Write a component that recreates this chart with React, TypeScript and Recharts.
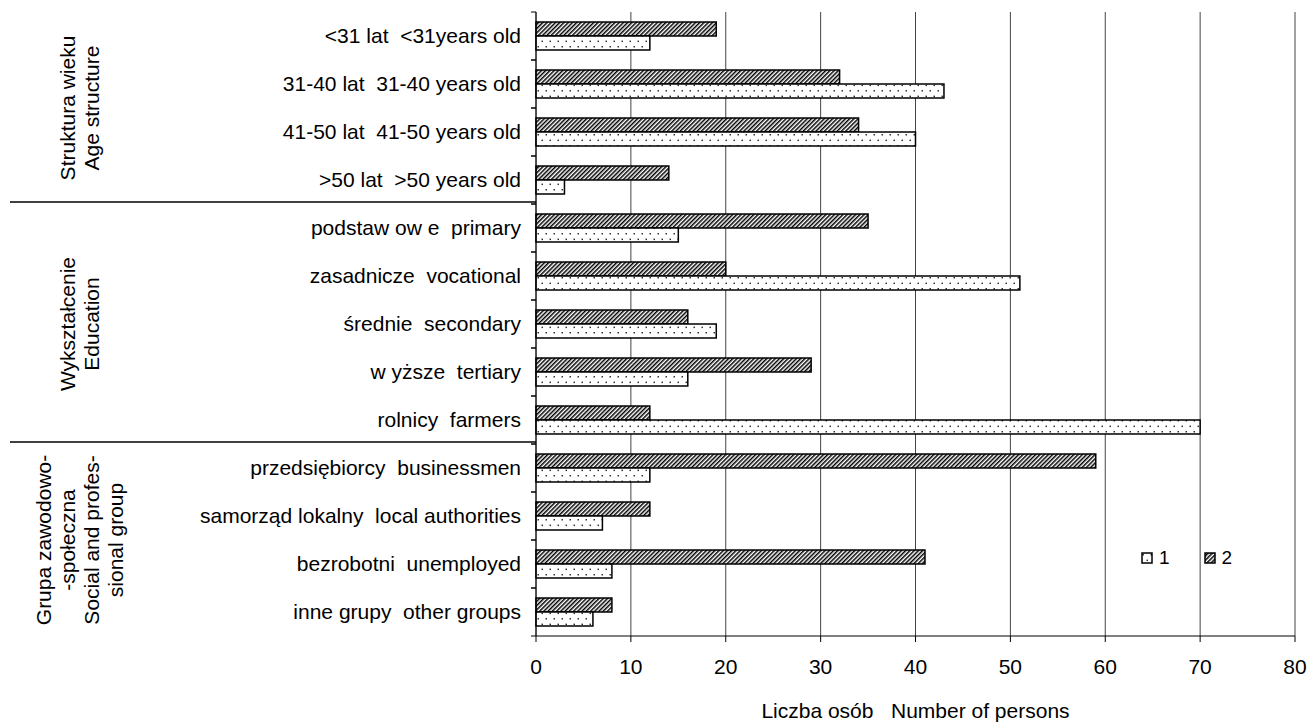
import React from "react";
import { BarChart, Bar, XAxis, YAxis, CartesianGrid, Legend } from "recharts";

const categories = [
  "<31 lat  <31years old",
  "31-40 lat  31-40 years old",
  "41-50 lat  41-50 years old",
  ">50 lat  >50 years old",
  "podstaw ow e  primary",
  "zasadnicze  vocational",
  "średnie  secondary",
  "w yższe  tertiary",
  "rolnicy  farmers",
  "przedsiębiorcy  businessmen",
  "samorząd lokalny  local authorities",
  "bezrobotni  unemployed",
  "inne grupy  other groups",
];
const series1 = [12, 43, 40, 3, 15, 51, 19, 16, 70, 12, 7, 8, 6];
const series2 = [19, 32, 34, 14, 35, 20, 16, 29, 12, 59, 12, 41, 8];
const xTicks = [0, 10, 20, 30, 40, 50, 60, 70, 80];
const groups = [
  { lines: ["Struktura wieku", "Age structure"], start: 0, count: 4 },
  { lines: ["Wykształcenie", "Education"], start: 4, count: 5 },
  { lines: ["Grupa zawodowo-", "-społeczna", "Social and profes-", "sional group"], start: 9, count: 4 },
];
const xLabel = "Liczba osób   Number of persons";

const data = categories.map((name, i) => ({ name, s1: series1[i], s2: series2[i] }));

const W = 1313;
const H = 725;
const M = { top: 12, right: 18, bottom: 0, left: 0 };
const Y_W = 536;
const X_H = 89;
const BAND = (H - M.top - M.bottom - X_H) / categories.length;
const FONT = "'Liberation Sans', Arial, sans-serif";
const FS = 21;

function CategoryTick(props: any) {
  const { y, payload, index } = props;
  const half = BAND / 2;
  const group = groups.find((g) => g.start === index);
  const gy = y - half + (group ? group.count * BAND : 0) / 2;
  return (
    <g>
      <line x1={Y_W - 5} x2={Y_W} y1={y - half} y2={y - half} stroke="#000" />
      <line x1={Y_W - 5} x2={Y_W} y1={y + half} y2={y + half} stroke="#000" />
      <text
        x={521}
        y={y}
        dy={7}
        textAnchor="end"
        fontSize={FS}
        fontFamily={FONT}
        fill="#000"
        style={{ whiteSpace: "pre" }}
      >
        {payload.value}
      </text>
      {group && group.start > 0 && (
        <line x1={10} x2={Y_W} y1={y - half - 2} y2={y - half - 2} stroke="#000" strokeWidth={1.5} />
      )}
      {group && (
        <text
          transform={`rotate(-90, 80, ${gy})`}
          x={80}
          y={gy}
          textAnchor="middle"
          fontSize={FS}
          fontFamily={FONT}
          fill="#000"
        >
          {group.lines.map((l, i) => (
            <tspan key={i} x={80} dy={i === 0 ? 7 - ((group.lines.length - 1) / 2) * 24 : 24}>
              {l}
            </tspan>
          ))}
        </text>
      )}
    </g>
  );
}

function AxisTitle(props: any) {
  const vb = props.viewBox || {};
  return (
    <text
      x={vb.x + vb.width / 2}
      y={H - 7}
      textAnchor="middle"
      fontSize={FS}
      fontFamily={FONT}
      fill="#000"
      style={{ whiteSpace: "pre" }}
    >
      {xLabel}
    </text>
  );
}

function renderLegend() {
  const items = [
    { label: "1", fill: "url(#dots)" },
    { label: "2", fill: "url(#hatch)" },
  ];
  return (
    <div style={{ display: "flex", alignItems: "center", fontFamily: FONT, fontSize: 19 }}>
      {items.map((it) => (
        <div key={it.label} style={{ display: "flex", alignItems: "center", marginRight: 34 }}>
          <svg width={12} height={12}>
            <rect x={1} y={1} width={10} height={10} fill={it.fill} stroke="#000" strokeWidth={1.5} />
          </svg>
          <span style={{ marginLeft: 6 }}>{it.label}</span>
        </div>
      ))}
    </div>
  );
}

export default function App() {
  return (
    <div style={{ position: "absolute", left: 0, top: 0, background: "#fff" }}>
      <BarChart
        width={W}
        height={H}
        data={data}
        layout="vertical"
        margin={M}
        barSize={14}
        barGap={0}
      >
        <defs>
          <pattern id="hatch" width="3" height="3" patternUnits="userSpaceOnUse" patternTransform="rotate(45)">
            <rect width="3" height="3" fill="#fff" />
            <line x1="0" y1="0" x2="0" y2="3" stroke="#000" strokeWidth="3" />
          </pattern>
          <pattern id="dots" width="8" height="11" patternUnits="userSpaceOnUse">
            <rect width="8" height="11" fill="#fff" />
            <rect x="1.5" y="2" width="1.5" height="1.5" fill="#333" />
            <rect x="5.5" y="7.6" width="1.5" height="1.5" fill="#333" />
          </pattern>
        </defs>
        <CartesianGrid horizontal={false} stroke="#444" />
        <XAxis
          type="number"
          domain={[0, 80]}
          ticks={xTicks}
          interval={0}
          height={X_H}
          stroke="#000"
          tickSize={6}
          tickMargin={17}
          tick={{ fill: "#000", fontSize: FS, fontFamily: FONT }}
          label={<AxisTitle />}
        />
        <YAxis
          type="category"
          dataKey="name"
          width={Y_W}
          interval={0}
          stroke="#000"
          tickLine={false}
          tick={<CategoryTick />}
        />
        <Legend
          layout="horizontal"
          verticalAlign="middle"
          align="center"
          wrapperStyle={{ left: 1141, top: 547, width: 140 }}
          content={renderLegend}
        />
        <Bar dataKey="s2" name="2" fill="url(#hatch)" stroke="#000" strokeWidth={1.5} isAnimationActive={false} />
        <Bar dataKey="s1" name="1" fill="url(#dots)" stroke="#000" strokeWidth={1.5} isAnimationActive={false} />
      </BarChart>
    </div>
  );
}
